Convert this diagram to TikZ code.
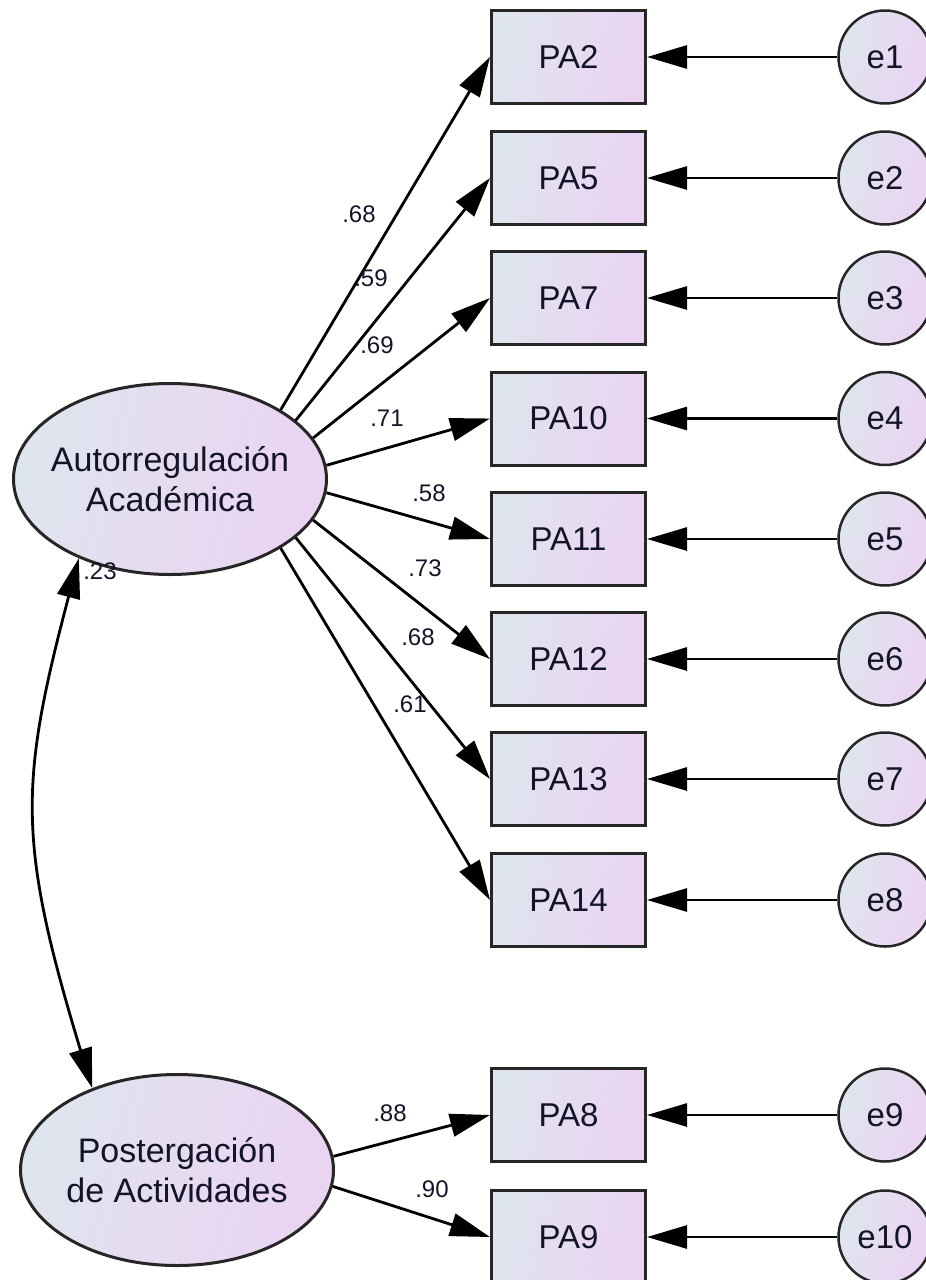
\documentclass[tikz,border=0pt]{standalone}
\usepackage{fontspec}
\setmainfont{Liberation Sans}
\usetikzlibrary{arrows.meta,shapes.geometric,bending}
\definecolor{gradL}{HTML}{DFE5EE}
\definecolor{gradR}{HTML}{EBD3F2}
\definecolor{txt}{HTML}{141428}
\newcommand{\zw}[1]{\makebox[0pt]{#1}}
\tikzset{
  fillgrad/.style={left color=gradL, right color=gradR, shading angle=75},
  obsbox/.style={draw=black!85, line width=3pt, fillgrad, rectangle, minimum width=154pt, minimum height=93pt, inner sep=0pt, text=txt, font=\fontsize{33}{38}\selectfont},
  errc/.style={draw=black!85, line width=2.5pt, fillgrad, circle, minimum size=93pt, inner sep=0pt, text=txt, font=\fontsize{33}{38}\selectfont},
  latent/.style={draw=black!85, line width=3pt, fillgrad, ellipse, minimum width=313pt, minimum height=191pt, inner sep=0pt, align=center, text=txt, font=\fontsize{34}{40}\selectfont},
  coef/.style={text=txt, font=\fontsize{24}{28}\selectfont, inner sep=0pt},
  arr/.style={-{Triangle[length=40pt,width=23pt]}, line width=2.8pt},
  darr/.style={{Triangle[length=40pt,width=23pt,flex]}-{Triangle[length=40pt,width=23pt,flex]}, line width=2.8pt},
}
\begin{document}
\begin{tikzpicture}[x=1pt,y=-1pt]
\useasboundingbox (0,0) rectangle (926,1280);
% latent variables
\node[latent] (A) at (170,479) {\zw{Autorregulación}\\\zw{Académica}};
\node[latent] (P) at (177,1170) {\zw{Postergación}\\\zw{de Actividades}};
% observed
\node[obsbox] (PA2)  at (568.5,57)   {PA2};
\node[obsbox] (PA5)  at (568.5,178)  {PA5};
\node[obsbox] (PA7)  at (568.5,298)  {PA7};
\node[obsbox] (PA10) at (568.5,418.5){PA10};
\node[obsbox] (PA11) at (568.5,539)  {PA11};
\node[obsbox] (PA12) at (568.5,659)  {PA12};
\node[obsbox] (PA13) at (568.5,779)  {PA13};
\node[obsbox] (PA14) at (568.5,900)  {PA14};
\node[obsbox] (PA8)  at (568.5,1115) {PA8};
\node[obsbox] (PA9)  at (568.5,1237) {PA9};
% errors
\node[errc] (e1)  at (885,57)    {e1};
\node[errc] (e2)  at (885,178)   {e2};
\node[errc] (e3)  at (885,298)   {e3};
\node[errc] (e4)  at (885,418.5) {e4};
\node[errc] (e5)  at (885,539)   {e5};
\node[errc] (e6)  at (885,659)   {e6};
\node[errc] (e7)  at (885,779)   {e7};
\node[errc] (e8)  at (885,900)   {e8};
\node[errc] (e9)  at (885,1115)  {e9};
\node[errc] (e10) at (885,1237)  {e10};
% error arrows
\foreach \e/\b in {e1/PA2,e2/PA5,e3/PA7,e4/PA10,e5/PA11,e6/PA12,e7/PA13,e8/PA14,e9/PA8,e10/PA9}
  \draw[arr] (\e) -- (\b);
% loadings
\draw[arr] (A.32)   -- (PA2.west);
\draw[arr] (A.25.5) -- (PA5.west);
\draw[arr] (A.16.5) -- (PA7.west);
\draw[arr] (A.5.5)  -- (PA10.west);
\draw[arr] (A.-5.5) -- (PA11.west);
\draw[arr] (A.-16.5)-- (PA12.west);
\draw[arr] (A.-25.5)-- (PA13.west);
\draw[arr] (A.-32)  -- (PA14.west);
\draw[arr] (P.5.4)  -- (PA8.west);
\draw[arr] (P.-6.5) -- (PA9.west);
% covariance
\draw[darr] (A.221) .. controls +(-62,230) and +(-80,-256) .. (P.136);
% coefficients
\node[coef] (c1)  at (359,214)  {.68};
\node[coef] (c2)  at (371,278)  {.59};
\node[coef] (c3)  at (377,345)  {.69};
\node[coef] (c4)  at (387,418)  {.71};
\node[coef] (c5)  at (429,493)  {.58};
\node[coef] (c6)  at (425,568)  {.73};
\node[coef] (c7)  at (418,637)  {.68};
\node[coef] (c8)  at (410,704)  {.61};
\node[coef] (c9)  at (390,1113) {.88};
\node[coef] (c10) at (432,1189) {.90};
\node[coef] (c11) at (100,571)  {.23};
\end{tikzpicture}
\end{document}
